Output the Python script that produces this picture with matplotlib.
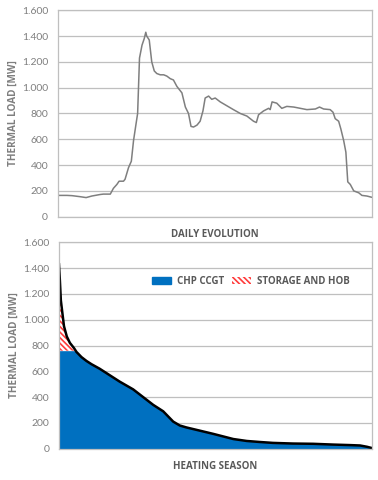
import numpy as np
import matplotlib
matplotlib.use("Agg")
import matplotlib.pyplot as plt
from matplotlib.patches import Patch

plt.rcParams['font.family'] = ['Open Sans', 'DejaVu Sans']
plt.rcParams['hatch.linewidth'] = 1.2

# ------------------ Data ------------------
# daily evolution (x in % of the day, load in MW)
day_x = [0, 2.9, 4.5, 7.1, 9.0, 10.8, 13.5, 14.5, 16.7, 17.7, 18.8, 19.5, 20.9, 21.4, 22.5,
         23.4, 24.1, 24.9, 25.4, 26.0, 26.8, 27.5, 28.0, 28.3, 29.1, 29.9, 30.7, 31.5, 32.6,
         33.7, 34.7, 35.8, 36.8, 37.9, 39.5, 40.6, 41.6, 42.4, 43.2, 44.3, 45.3, 46.2, 46.9,
         48.0, 49.0, 50.1, 51.7, 53.8, 55.9, 58.1, 60.2, 62.3, 63.2, 63.9, 65.5, 67.1, 67.6,
         68.2, 69.7, 71.3, 72.9, 75.1, 77.2, 79.3, 82.0, 83.3, 84.6, 86.7, 87.6, 88.3, 89.4,
         90.1, 91.0, 91.7, 92.3, 93.1, 94.2, 95.8, 96.8, 98.4, 100]
day_load = [165, 165, 163, 155, 148, 160, 172, 175, 175, 220, 250, 275, 275, 290, 380,
            430, 590, 720, 800, 1230, 1330, 1380, 1430, 1400, 1370, 1200, 1130, 1110, 1100,
            1100, 1090, 1070, 1060, 1010, 960, 850, 800, 700, 695, 710, 740, 820, 920,
            935, 910, 920, 890, 860, 830, 800, 780, 740, 730, 790, 820, 840, 830,
            890, 880, 840, 855, 850, 840, 830, 835, 850, 835, 830, 810, 760, 740,
            680, 590, 500, 270, 250, 200, 185, 165, 160, 150]

# load duration curve (x in % of heating season, load in MW)
season_x = [0, 0.3, 0.6, 1.1, 1.6, 2.5, 3.5, 4.8, 5.6, 7.2, 8.8, 10.4, 13.0, 16.2, 19.4,
            23.7, 26.9, 30.1, 33.3, 34.9, 36.5, 38.6, 40.7, 45.0, 49.3, 52.5, 55.7, 60.0,
            64.2, 68.4, 74.8, 81.2, 87.6, 93.0, 96.2, 98.4, 100]
season_load = [1430, 1300, 1150, 1050, 950, 870, 820, 780, 750, 710, 680, 655, 620, 570, 520,
               460, 400, 340, 290, 250, 210, 180, 165, 140, 115, 95, 75, 60, 52, 45, 40, 38,
               32, 28, 25, 15, 5]
chp_capacity = 760

yticks = [0, 200, 400, 600, 800, 1000, 1200, 1400, 1600]
ytick_labels = ["0", "200", "400", "600", "800", "1.000", "1.200", "1.400", "1.600"]

# ------------------ Plot ------------------
txt = "#7f7f7f"
grid = "#bfbfbf"
blue = "#0070C0"
red = "#ff3b3b"
hatch = "\\" * 6

fig = plt.figure(figsize=(3.78, 4.8), dpi=100)
ax1 = fig.add_axes([0.153, 0.5486, 0.831, 0.4299])
ax2 = fig.add_axes([0.156, 0.0652, 0.828, 0.43])


def style(ax, xlabel):
    ax.set_ylim(0, 1600)
    ax.set_xlim(0, 100)
    ax.set_yticks(yticks)
    ax.set_yticklabels(ytick_labels, family=["Lato", "DejaVu Sans"])
    ax.set_xticks([])
    ax.grid(axis="y", color=grid, lw=0.9)
    ax.set_axisbelow(True)
    for s in ax.spines.values():
        s.set_color(grid)
        s.set_linewidth(0.9)
    ax.tick_params(axis="y", length=0, pad=7, labelsize=7.5, labelcolor=txt)
    ax.set_ylabel("THERMAL LOAD [MW]", fontsize=7.2, fontweight="bold", color=txt, labelpad=2)
    ax.set_xlabel(xlabel, fontsize=7, fontweight="bold", color="#595959", labelpad=9)


ax1.plot(day_x, day_load, color="#7f7f7f", lw=1.1)
style(ax1, "DAILY EVOLUTION")

sx = np.array(season_x)
sl = np.array(season_load)
base = np.minimum(sl, chp_capacity)
ax2.fill_between(sx, 0, base, color=blue, lw=0)
ax2.fill_between(sx, base, sl, where=sl > chp_capacity, interpolate=True,
                 facecolor="white", edgecolor=red, hatch=hatch, lw=0)
ax2.plot(sx, sl, color="black", lw=1.8)
style(ax2, "HEATING SEASON")

handles = [Patch(facecolor=blue, edgecolor=blue, label="CHP CCGT"),
           Patch(facecolor="white", edgecolor=red, hatch=hatch, lw=0,
                 label="STORAGE AND HOB")]
leg = ax2.legend(handles=handles, ncol=2, frameon=False, loc="upper right",
                 bbox_to_anchor=(0.945, 0.86), fontsize=7, handlelength=2.0, handleheight=0.8,
                 columnspacing=0.8, handletextpad=0.6, borderpad=0)
for t in leg.get_texts():
    t.set_color("#595959")
    t.set_fontweight("bold")

fig.savefig("out.png", dpi=100)
